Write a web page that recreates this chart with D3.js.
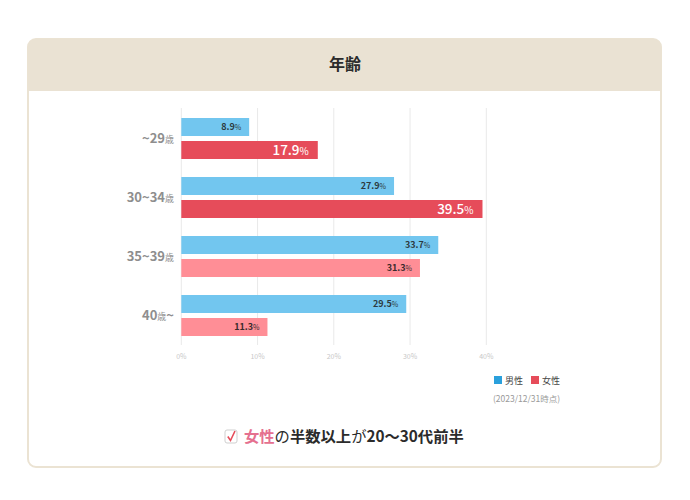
<!DOCTYPE html>
<html><head><meta charset="utf-8">
<script src="https://cdn.jsdelivr.net/npm/d3@7"></script>
<style>
html,body{margin:0;padding:0;background:#fff;}
svg{display:block;font-family:"Noto Sans CJK JP","Noto Sans",sans-serif;}
</style></head>
<body><svg id="c" width="690" height="500"></svg>
<script>
const categories = ["~29", "30~34", "35~39", "40"];
const categoryUnit = ["歳", "歳", "歳", "歳"];
const categoryTail = ["", "", "", "~"];
const maleValues = [8.9, 27.9, 33.7, 29.5];
const femaleValues = [17.9, 39.5, 31.3, 11.3];
const femaleHighlight = [true, true, false, false];
const tickValues = [0, 10, 20, 30, 40];
const seriesNames = ["男性", "女性"];
const title = "年齢";
const note = "(2023/12/31時点)";

const svg = d3.select("#c");
const cMale = "#72c6ef", cFemale = "#e64c5a", cFemaleLight = "#ff8e96";

// card
svg.append("rect").attr("x",28).attr("y",39).attr("width",633).attr("height",428)
  .attr("rx",8).attr("fill","#fff").attr("stroke","#ebe3d3").attr("stroke-width",2);
svg.append("path").attr("d","M28,91 V47 a8,8 0 0 1 8,-8 H653 a8,8 0 0 1 8,8 V91 Z").attr("fill","#eae2d3");
svg.append("text").attr("x",345).attr("y",69.5).attr("text-anchor","middle")
  .attr("font-size",16).attr("font-weight",700).attr("fill","#2b2b2b").text(title);

const x = d3.scaleLinear().domain([0,40]).range([181.3,486.3]);
const y = d3.scaleBand().domain(categories).range([118,336]).paddingInner(18/59).paddingOuter(0);
const sub = d3.scaleBand().domain(["m","f"]).range([0,y.bandwidth()]).paddingInner(5/23).paddingOuter(0);

// grid
const g = svg.append("g");
g.selectAll("line.grid").data(tickValues).join("line")
  .attr("x1",d=>x(d)).attr("x2",d=>x(d)).attr("y1",108).attr("y2",345)
  .attr("stroke","#e9e9e9").attr("stroke-width",1);
g.selectAll("text.tick").data(tickValues).join("text")
  .attr("x",d=>x(d)).attr("y",359).attr("text-anchor","middle")
  .attr("font-size",7).attr("fill","#c8c8c8").text(d=>d+"%");

// bars
const rows = categories.map((c,i)=>({c,i,m:maleValues[i],f:femaleValues[i],hl:femaleHighlight[i]}));
const bars = svg.append("g");
rows.forEach(r=>{
  const y0 = y(r.c);
  bars.append("rect").attr("x",x(0)).attr("y",y0+sub("m")).attr("width",x(r.m)-x(0)).attr("height",sub.bandwidth()).attr("fill",cMale);
  bars.append("rect").attr("x",x(0)).attr("y",y0+sub("f")).attr("width",x(r.f)-x(0)).attr("height",sub.bandwidth()).attr("fill",r.hl?cFemale:cFemaleLight);
  const tm = bars.append("text").attr("x",x(r.m)-8).attr("y",y0+sub("m")+sub.bandwidth()/2+3.3)
    .attr("text-anchor","end").attr("font-size",9).attr("font-weight",700).attr("fill","#2d3a40");
  tm.append("tspan").text(r.m.toFixed(1));
  tm.append("tspan").attr("font-size",7).attr("font-weight",400).text("%");
  const tf = bars.append("text").attr("x",x(r.f)-(r.hl?9:8)).attr("y",y0+sub("f")+sub.bandwidth()/2+(r.hl?4.8:3.3))
    .attr("text-anchor","end").attr("font-size",r.hl?13.5:9).attr("font-weight",r.hl?500:700)
    .attr("fill",r.hl?"#fff":"#3a2a2c");
  tf.append("tspan").text(r.f.toFixed(1));
  tf.append("tspan").attr("font-size",r.hl?10:7).attr("font-weight",400).text("%");
  const tc = svg.append("text").attr("x",174).attr("y",y0+y.bandwidth()/2+4.5)
    .attr("text-anchor","end").attr("font-size",13).attr("font-weight",700).attr("fill","#8e8e8e");
  tc.append("tspan").text(r.c);
  tc.append("tspan").attr("font-size",9).attr("font-weight",400).text(categoryUnit[r.i]);
  if (categoryTail[r.i]) tc.append("tspan").text(categoryTail[r.i]);
});

// legend
const leg = svg.append("g");
[["#2aa0dc",494,seriesNames[0]],["#e64c5a",531,seriesNames[1]]].forEach(([c,lx,t])=>{
  leg.append("rect").attr("x",lx).attr("y",376).attr("width",8).attr("height",8).attr("fill",c);
  leg.append("text").attr("x",lx+11).attr("y",383.5).attr("font-size",9).attr("fill","#444").text(t);
});
svg.append("text").attr("x",493).attr("y",402).attr("font-size",8.5).attr("fill","#999").text(note);

// bottom message
svg.append("rect").attr("x",225).attr("y",430).attr("width",12).attr("height",13).attr("rx",2)
  .attr("fill","#fff").attr("stroke","#cfcfcf").attr("stroke-width",1);
svg.append("path").attr("d","M227.8,436.5 L230.5,440.5 L235,431").attr("fill","none").attr("stroke","#e64c5a").attr("stroke-width",1.6);
const msg = svg.append("text").attr("x",244).attr("y",441.5).attr("font-size",15.3).attr("font-weight",700).attr("fill","#2b2b2b");
msg.append("tspan").attr("fill","#e5708f").text("女性");
msg.append("tspan").attr("font-weight",400).text("の");
msg.append("tspan").text("半数以上");
msg.append("tspan").attr("font-weight",400).text("が");
msg.append("tspan").text("20〜30代前半");
</script></body></html>
